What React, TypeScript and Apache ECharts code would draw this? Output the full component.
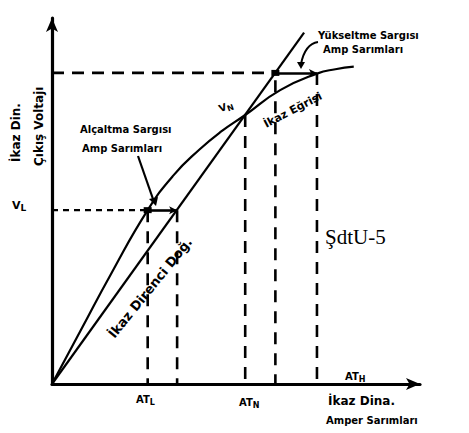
import React, { useEffect, useRef } from "react";
import * as echarts from "echarts";

// Magnetisation (İkaz eğrisi) curve: ampere-turns vs. voltage (relative units)
const curveAT = [0, 8, 16, 26, 33, 40, 46, 52.5, 62, 72, 77, 82];
const curveV = [0, 15, 30, 47.5, 57, 64, 69, 73.5, 80.3, 84.8, 86, 86.7];
// Field resistance line (İkaz direnci doğrusu)
const lineAT = [0, 68.5];
const lineV = [0, 96];
// Operating levels
const levelNames = ["L", "N", "H"];
const levelV = [47.5, 73.5, 85];
// Ampere-turn guides: [on curve, on line]
const atLow = [26, 34];
const atNom = [52.5];
const atHigh = [60.7, 72];

const FONT = "DejaVu Sans";

export default function App() {
  const ref = useRef<HTMLDivElement>(null);
  useEffect(() => {
    if (!ref.current) return;
    const chart = echarts.init(ref.current, undefined, { renderer: "svg" });
    const zip = (a: number[], b: number[]) => a.map((v, i) => [v, b[i]]);
    const black = "#000";
    const dashV = { color: black, width: 2.6, type: [12, 9] as any };
    const seg = (pts: number[][], ls: any) => ({
      type: "line",
      data: pts,
      symbol: "none",
      silent: true,
      lineStyle: ls,
      z: 2,
    });
    const series: any[] = [
      {
        type: "line",
        data: zip(curveAT, curveV),
        smooth: 0.5,
        symbol: "none",
        lineStyle: { color: black, width: 2.2 },
        z: 3,
      },
      {
        type: "line",
        data: zip(lineAT, lineV),
        symbol: "none",
        lineStyle: { color: black, width: 2.2 },
        z: 3,
      },
      // horizontal guides
      seg([[0, levelV[0]], [atLow[0], levelV[0]]], { color: black, width: 2.4, type: [6, 5] }),
      seg([[0, levelV[2]], [atHigh[0], levelV[2]]], { color: black, width: 2.6, type: [12, 8] }),
      // vertical guides
      seg([[atLow[0], levelV[0]], [atLow[0], 0]], dashV),
      seg([[atLow[1], levelV[0]], [atLow[1], 0]], dashV),
      seg([[atNom[0], levelV[1]], [atNom[0], 0]], dashV),
      seg([[atHigh[0], levelV[2] - 2], [atHigh[0], 0]], dashV),
      seg([[atHigh[1], levelV[2]], [atHigh[1], 0]], dashV),
      // solid arrows (ampere-turns of boost / buck windings)
      {
        type: "line",
        data: [],
        markLine: {
          silent: true,
          symbol: ["rect", "arrow"],
          symbolSize: [6, 8],
          label: { show: false },
          lineStyle: { color: black, width: 2.6, type: "solid" },
          data: [
            [{ coord: [atLow[0], levelV[0]] }, { coord: [atLow[1], levelV[0]] }],
            [{ coord: [atHigh[0], levelV[2]] }, { coord: [atHigh[1], levelV[2]] }],
          ],
        },
      },
    ];

    const t = (text: string, x: number, y: number, size: number, extra: any = {}) => ({
      type: "text",
      x,
      y,
      rotation: extra.rotation || 0,
      style: {
        text,
        font: `bold ${size}px "${FONT}"`,
        fill: black,
        textAlign: extra.align || "left",
        textVerticalAlign: extra.valign || "middle",
      },
      z: 10,
    });
    const sub = (main: string, s: string, x: number, y: number, size: number, rot = 0) => ({
      type: "text",
      x,
      y,
      rotation: rot,
      style: {
        text: `{a|${main}}{b|${s}}`,
        fill: black,
        textAlign: "left",
        textVerticalAlign: "middle",
        rich: {
          a: { font: `bold ${size}px "${FONT}"`, fill: black },
          b: { font: `bold ${size - 2}px "${FONT}"`, fill: black, padding: [6, 0, 0, 0] },
        },
      },
      z: 10,
    });

    chart.setOption({
      animation: false,
      backgroundColor: "#fff",
      grid: { left: 52, right: 49, top: 18, bottom: 49 },
      xAxis: {
        type: "value",
        min: 0,
        max: 100,
        axisLine: { show: true, symbol: ["none", "arrow"], symbolSize: [9, 14], lineStyle: { color: black, width: 3.2 } },
        axisTick: { show: false },
        axisLabel: { show: false },
        splitLine: { show: false },
      },
      yAxis: {
        type: "value",
        min: 0,
        max: 100,
        axisLine: { show: true, symbol: ["none", "arrow"], symbolSize: [9, 14], lineStyle: { color: black, width: 3.2 } },
        axisTick: { show: false },
        axisLabel: { show: false },
        splitLine: { show: false },
      },
      series,
      graphic: [
        // axis titles
        t("İkaz Din.", 16, 162, 12, { rotation: Math.PI / 2 }),
        t("Çıkış Voltajı", 39, 166, 12, { rotation: Math.PI / 2 }),
        t("İkaz Dina.", 328, 401, 12),
        t("Amper Sarımları", 326, 420, 10),
        // level labels
        sub("V", levelNames[0], 12, 205, 11),
        sub("V", levelNames[1], 219, 109, 10, 0.35),
        sub("AT", levelNames[0], 136, 399, 10),
        sub("AT", levelNames[1], 239, 402, 10),
        sub("AT", levelNames[2], 345, 376, 10),
        // curve labels
        t("İkaz Eğrisi", 262, 120, 11, { rotation: 0.48, valign: "top" }),
        t("İkaz Direnci Doğ.", 106, 332, 13, { rotation: 0.89, valign: "top" }),
        // winding annotations
        t("Alçaltma Sargısı", 80, 129, 10),
        t("Amp Sarımları", 82, 148, 10),
        {
          type: "line",
          shape: { x1: 138, y1: 156, x2: 153, y2: 199 },
          style: { stroke: black, lineWidth: 2.2 },
          z: 10,
        },
        {
          type: "polygon",
          shape: { points: [[149, 199], [158, 197], [156, 206]] },
          style: { fill: black },
          z: 10,
        },
        t("Yükseltme Sargısı", 318, 35, 10),
        t("Amp Sarımları", 323, 49, 10),
        {
          type: "bezierCurve",
          shape: { x1: 318, y1: 42, cpx1: 305, cpy1: 44, x2: 301, y2: 64 },
          style: { stroke: black, lineWidth: 2, fill: "none" },
          z: 10,
        },
        {
          type: "polygon",
          shape: { points: [[297, 62], [305, 62], [301, 69]] },
          style: { fill: black },
          z: 10,
        },
        // figure code
        {
          type: "text",
          x: 325,
          y: 237,
          style: {
            text: "ŞdtU-5",
            font: `21px "Liberation Serif"`,
            fill: black,
            textAlign: "left",
            textVerticalAlign: "middle",
          },
          z: 10,
        },
      ],
    });
    return () => chart.dispose();
  }, []);
  return (
    <div
      ref={ref}
      style={{ position: "fixed", left: 0, top: 0, width: 469, height: 433, background: "#fff" }}
    />
  );
}
